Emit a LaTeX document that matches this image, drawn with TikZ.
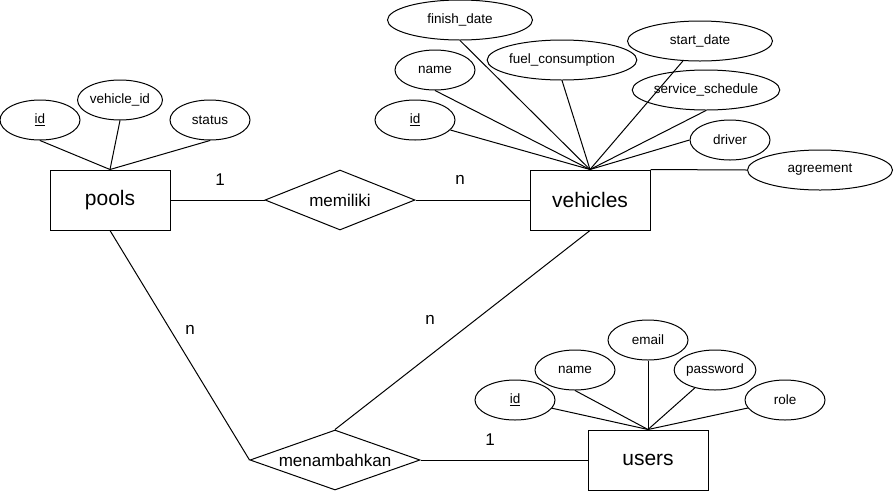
\documentclass[tikz,border=0pt]{standalone}
\usepackage{fontspec}
\setmainfont{Liberation Sans}
\usetikzlibrary{shapes.geometric}

\begin{document}
\begin{tikzpicture}[x=1pt, y=-1pt, line width=1pt,
	entity/.style={rectangle, draw, minimum width=120pt, minimum height=60pt, font=\fontsize{21}{24}\selectfont},
	rel/.style={diamond, draw, inner sep=0pt, shape aspect=2.6, minimum height=60pt, font=\fontsize{17}{20}\selectfont},
	attr/.style={ellipse, draw, inner sep=0pt, minimum width=80pt, minimum height=40pt, font=\fontsize{13.5}{16}\selectfont},
	wide/.style={minimum width=145pt},
	card/.style={font=\fontsize{17}{20}\selectfont}]
	\useasboundingbox (0,0) rectangle (896,491);

	% entities and relationships
	\node[entity] (Pools) at (110,200) {pools};
	\node[entity] (Vehicles) at (590,200) {vehicles};
	\node[entity] (Users) at (648,460) {users};
	\node[rel, minimum width=150pt] (Memiliki) at (340,200) {memiliki};
	\node[rel, minimum width=170pt] (Menambahkan) at (335,460) {menambahkan};

	% attributes of pools
	\node[attr] (PoolId) at (40,120) {\underline{id}};
	\node[attr] (PoolVehicleId) at (120,100) {vehicle\_id};
	\node[attr] (PoolStatus) at (210,120) {status};

	% attributes of vehicles
	\node[attr, wide] (FinishDate) at (460,20) {finish\_date};
	\node[attr] (VehName) at (435,70) {name};
	\node[attr] (VehId) at (415,120) {\underline{id}};
	\node[attr, wide] (FuelCons) at (562,60) {fuel\_consumption};
	\node[attr, wide] (StartDate) at (700,41) {start\_date};
	\node[attr, wide] (ServiceSched) at (706,90) {service\_schedule};
	\node[attr] (Driver) at (730,140) {driver};
	\node[attr, wide] (Agreement) at (820,170) {agreement};

	% attributes of users
	\node[attr] (UserId) at (515,400) {\underline{id}};
	\node[attr] (UserName) at (575,370) {name};
	\node[attr] (UserEmail) at (648,340) {email};
	\node[attr] (UserPassword) at (715,370) {password};
	\node[attr] (UserRole) at (785,400) {role};

	% attribute lines
	\draw (PoolId.south) -- (Pools.north);
	\draw (PoolVehicleId.south) -- (Pools.north);
	\draw (PoolStatus.south) -- (Pools.north);

	\draw (FinishDate.south) -- (Vehicles.north);
	\draw (VehName.south) -- (Vehicles.north);
	\draw (VehId) -- (Vehicles.north);
	\draw (FuelCons.south) -- (Vehicles.north);
	\draw (StartDate) -- (Vehicles.north);
	\draw (ServiceSched.south) -- (Vehicles.north);
	\draw (Driver.west) -- (Vehicles.north);
	\draw (Vehicles.north east) -- (Agreement.west);

	\draw (UserId) -- (Users.north);
	\draw (UserName.south) -- (Users.north);
	\draw (UserEmail.south) -- (Users.north);
	\draw (UserPassword) -- (Users.north);
	\draw (UserRole) -- (Users.north);

	% relationship lines
	\draw (Pools.east) -- (Memiliki.west);
	\draw (Memiliki.east) -- (Vehicles.west);
	\draw (Pools.south) -- (Menambahkan.west);
	\draw (Vehicles.south) -- (Menambahkan.north);
	\draw (Menambahkan.east) -- (Users.west);

	% cardinalities
	\node[card] (CardPools) at (220,180) {1};
	\node[card] (CardVehicles) at (460,180) {n};
	\node[card] (CardPoolsAdd) at (190,330) {n};
	\node[card] (CardVehAdd) at (430,320) {n};
	\node[card] (CardUsers) at (490,440) {1};
\end{tikzpicture}
\end{document}
